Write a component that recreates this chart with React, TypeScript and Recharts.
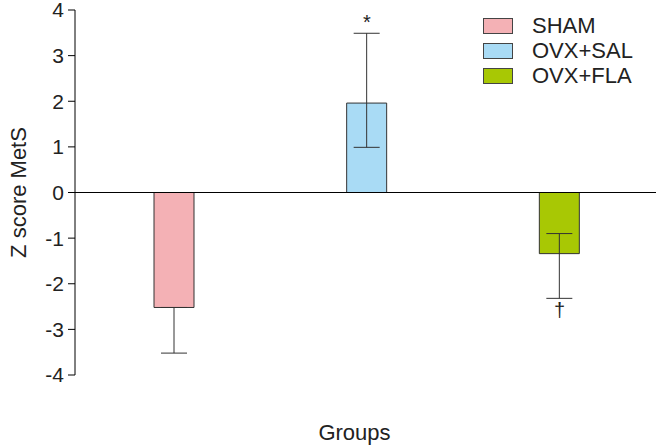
import { Bar, BarChart, Cell, ErrorBar, ReferenceDot, ReferenceLine, XAxis, YAxis } from 'recharts'

const categories = ['SHAM', 'OVX+SAL', 'OVX+FLA']
const values = [-2.52, 1.96, -1.34]
const errLow = [1.0, 0.97, 0.98]
const errHigh = [0, 1.53, 0.44]
const marks = ['', '*', '\u2020']
const colors = ['#f4b1b5', '#a9dbf5', '#a8c804']
const yTicks = [-4, -3, -2, -1, 0, 1, 2, 3, 4]

const data = categories.map((name, i) => ({ name, value: values[i], err: [errLow[i], errHigh[i]] }))

const font = '"Liberation Sans", Arial, sans-serif'

function LegendBox() {
  return (
    <div style={{ position: 'absolute', left: 483, top: 14, fontFamily: font, fontSize: 22, color: '#222' }}>
      {categories.map((c, i) => (
        <div key={c} style={{ display: 'flex', alignItems: 'center', height: 24.7 }}>
          <span style={{ width: 28, height: 14, background: colors[i], border: '1px solid #444', marginRight: 19 }} />
          <span>{c}</span>
        </div>
      ))}
    </div>
  )
}

export default function App() {
  return (
    <div style={{ position: 'absolute', left: 0, top: 0, width: 658, height: 447, background: '#fff' }}>
      <BarChart width={658} height={447} data={data} margin={{ top: 10, right: 2, bottom: 0, left: 0 }} style={{ fontFamily: font }}>
        <XAxis
          dataKey="name"
          tick={false}
          tickLine={false}
          axisLine={false}
          height={72}
          padding={{ left: 3, right: 0 }}
          label={{ value: 'Groups', position: 'insideBottom', offset: 7, dx: -11, style: { fontSize: 22, fill: '#222' } }}
        />
        <YAxis
          domain={[-4, 4]}
          ticks={yTicks}
          interval={0}
          width={75}
          tickSize={7}
          tickMargin={4}
          tick={{ fontSize: 21, fill: '#222' }}
          axisLine={{ stroke: '#000' }}
          tickLine={{ stroke: '#000' }}
          label={{ value: 'Z score MetS', angle: -90, position: 'insideLeft', offset: 18, style: { textAnchor: 'middle', fontSize: 22, fill: '#222' } }}
        />
        <ReferenceLine y={0} stroke="#000" />
        <Bar dataKey="value" barSize={40} stroke="#333" strokeWidth={1} isAnimationActive={false}>
          {data.map((d, i) => (
            <Cell key={d.name} fill={colors[i]} />
          ))}
          <ErrorBar dataKey="err" width={13} stroke="#333" strokeWidth={1} direction="y" isAnimationActive={false} />
        </Bar>
        {data.map((d, i) =>
          marks[i] ? (
            <ReferenceDot
              key={d.name}
              x={d.name}
              y={d.value >= 0 ? d.value + errHigh[i] : d.value - errLow[i]}
              r={0}
              fill="none"
              stroke="none"
              label={{ value: marks[i], position: d.value >= 0 ? 'top' : 'bottom', offset: 4, style: { fontSize: 20, fill: '#222' } }}
            />
          ) : null
        )}
      </BarChart>
      <LegendBox />
    </div>
  )
}
